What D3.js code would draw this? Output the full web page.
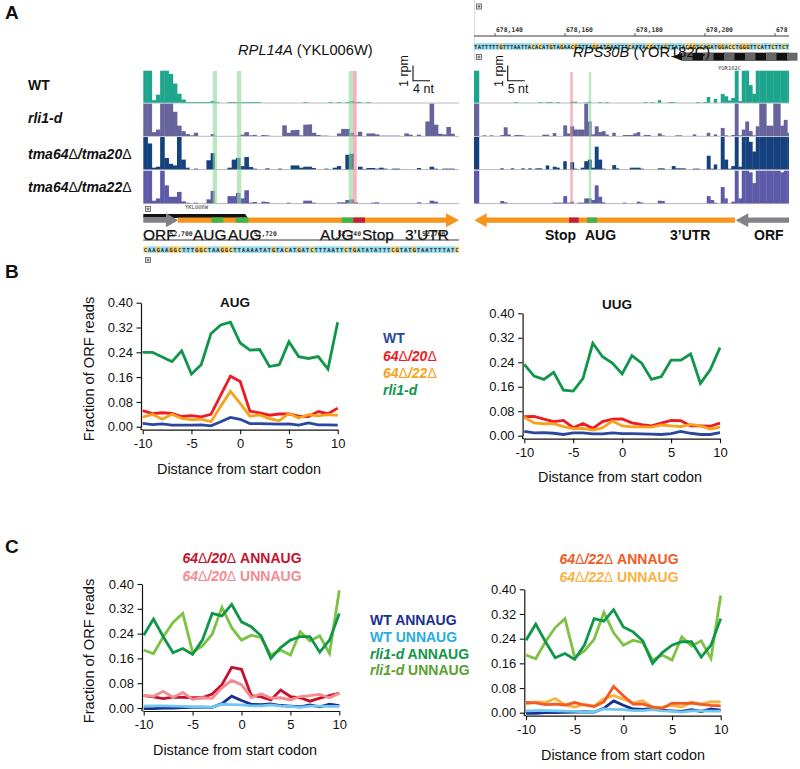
<!DOCTYPE html>
<html><head><meta charset="utf-8">
<style>html,body{margin:0;padding:0;background:#fff}svg{display:block}text{font-family:"Liberation Sans",Arial,sans-serif}</style>
<script src="https://cdn.jsdelivr.net/npm/d3@7"></script>
</head><body><svg id="c" width="800" height="769"></svg>
<script>
// ---- panel A data (signal clipped at track top, 1 = full track height)
const wtL=[1,1,.08,.25,1,1,.9,.6,.28,.1,.02,.02,.02,.02,.02,
.02,.05,.02,0,0,.02,.02,.02,.02,.02,.02,.02,.02,0,0,
0,0,0,0,0,0,0,0,.02,0,0,0,0,0,.02,
0,.02,0,.02,.05,.02,.02,0,.02,0,0,0,0,0,0,
0,0,0,0,0,0,0,0,0,0,0,0,0,0,0];
const rliL=[1,1,.12,.2,1,1,1,.75,.32,.15,.06,.02,.1,0,0,
0,.06,0,0,0,0,0,0,.04,.12,.02,.03,0,.03,.02,
0,0,0,.33,.1,.18,.19,.02,.35,.36,.1,.03,.01,.01,0,
0,.08,.22,.22,.1,.02,.13,0,.08,.08,.05,.01,.01,.01,.01,
.01,0,.08,.04,0,.04,0,.45,1,.35,.07,.05,.28,.07,0];
const t20L=[1,.8,.05,.08,1,.35,.17,.12,1,.3,.05,0,.02,0,0,
.28,.5,0,0,0,.05,.3,.35,.1,.38,.07,.02,0,0,.03,
0,0,.02,0,0,.12,.12,.05,.08,.08,.04,0,0,.02,0,
.05,.1,0,.45,.48,0,.08,.01,.04,.04,.02,.05,.02,0,.02,
.02,0,0,0,0,.04,0,0,.08,.02,0,.02,.02,.02,0];
const t22L=[1,1,.08,.15,1,.55,.2,.2,.35,.06,.02,0,.02,0,0,
.12,.38,0,0,0,.22,.22,.32,.15,.4,.02,.04,0,.05,.04,
0,0,0,0,.02,0,0,0,.08,.08,.02,0,0,0,0,
0,.03,.03,.1,.12,.03,0,0,0,.02,.03,0,0,0,0,
0,0,0,0,0,.03,0,0,.08,.05,0,0,0,0,0];
const wtR=[1,1,0,0,0,0,0,0,0,0,0,0,.02,0,0,
0,0,0,0,.02,0,.02,.02,0,.02,0,0,0,.03,.03,
0,0,.01,.03,0,0,.02,0,.02,0,0,0,0,0,0,
0,0,0,0,.02,0,.02,0,.08,0,0,.02,.02,0,0,
0,0,0,0,.02,0,.02,.18,0,.12,0,.27,.2,.07,.15,
1,.05,1,1,.55,.28,1,1,1,1,1,1,1,1,1,1];
const rliR=[1,1,0,.02,0,.02,0,0,.03,.27,.05,0,.03,.03,.02,
0,0,0,0,0,.04,.04,0,.09,0,0,.33,.08,.3,.2,
.2,.2,1,.45,.05,.3,.12,.15,.05,0,.1,0,0,.03,.03,
.03,.08,.12,0,.03,.03,0,0,.08,.02,0,0,0,.02,.02,
0,0,0,.05,0,0,0,.1,0,.05,0,.25,.02,0,.03,
1,.02,.2,.45,.15,.02,.3,1,1,.32,.32,1,1,.32,.5,.1];
const t20R=[1,1,0,0,0,0,0,0,.03,0,0,.03,0,0,.03,
0,.03,0,.03,.03,0,.12,0,.08,.05,0,.25,0,.22,.02,
0,.05,.25,.3,.05,.7,.3,.02,0,0,.13,.03,0,0,0,
.05,.05,.05,.02,0,0,0,0,.03,.03,0,0,.1,.03,.03,
.03,0,0,.02,.02,0,0,.42,.02,.15,0,1,.3,.02,.1,
1,.08,1,1,.85,.55,1,1,1,1,1,1,1,1,1,1];
const t22R=[1,1,0,0,0,0,0,0,.07,.03,0,0,0,0,0,
0,0,0,0,0,0,0,0,.02,.02,.02,.22,.02,.05,0,
.02,.02,.15,.15,.1,.55,.2,.03,0,0,0,0,0,.02,0,
0,0,.05,.02,0,0,0,0,.08,.07,0,0,0,0,0,
0,0,0,0,0,0,0,.22,.1,.02,0,.5,.15,0,.05,
1,.15,1,1,.95,.62,1,1,1,1,1,1,1,.95,1,1];
const seqL="CAAGAAGGCTTTGGCTAAGGCTTAAAATATGTACATGATCTTTAATTCTGATATATTTCGTATGTAATTTTATC";
const seqR="TATTTTTGTTTAATTACACATGTAGAACGTTTAGCATGAATTTCATTACGATAGTTATACGGTCAGATGGACCTGGGTTCATTCTTCT";
const tickL=["52,700","52,720","52,740","52,760"], tickLnt=[6,26,46,66];
const tickR=["678,140","678,160","678,180","678,200","678"], tickRnt=[6,26,46,66,86];
// ---- metagene data, positions -10..10
const pos=d3.range(-10,11);
const augGreen=[.24,.24,.225,.21,.245,.17,.2,.3,.328,.337,.27,.247,.249,.194,.2,.274,.226,.22,.226,.186,.337];
const augRed=[.052,.042,.045,.043,.033,.036,.032,.04,.102,.163,.146,.05,.045,.037,.041,.041,.034,.033,.049,.042,.06];
const augOrange=[.031,.04,.024,.04,.027,.023,.024,.016,.066,.114,.075,.034,.038,.026,.019,.043,.028,.039,.035,.039,.037];
const augBlue=[.011,.007,.009,.005,.005,.005,.006,.003,.016,.03,.024,.01,.01,.009,.008,.009,.005,.012,.006,.006,.005];
const uugGreen=[.233,.195,.184,.207,.149,.146,.187,.302,.258,.237,.202,.262,.237,.184,.193,.247,.247,.267,.171,.215,.288];
const uugRed=[.062,.063,.054,.046,.05,.026,.04,.024,.046,.054,.055,.042,.036,.032,.041,.05,.049,.032,.032,.031,.041];
const uugOrange=[.06,.042,.039,.039,.03,.023,.024,.018,.026,.048,.032,.029,.029,.028,.035,.032,.03,.037,.032,.022,.028];
const uugBlue=[.014,.009,.01,.008,.004,.009,.009,.006,.006,.009,.007,.007,.006,.005,.004,.007,.014,.008,.004,.004,.01];
const rliAnn=[.235,.287,.23,.178,.192,.173,.219,.305,.297,.334,.278,.262,.233,.16,.195,.219,.23,.23,.18,.219,.305];
const rliUnn=[.187,.175,.23,.276,.305,.18,.2,.238,.325,.259,.219,.235,.227,.171,.187,.171,.246,.216,.233,.176,.38];
const d20Ann=[.04,.036,.03,.035,.034,.033,.033,.045,.075,.131,.125,.04,.036,.026,.058,.037,.033,.022,.032,.04,.048];
const d20Unn=[.04,.038,.054,.034,.05,.028,.033,.031,.065,.089,.075,.034,.046,.032,.033,.026,.037,.04,.044,.033,.048];
const d22Ann=[.033,.032,.026,.028,.025,.033,.025,.02,.035,.085,.055,.028,.028,.019,.014,.031,.03,.031,.027,.024,.022];
const d22Unn=[.028,.035,.033,.046,.025,.018,.027,.022,.045,.056,.044,.032,.039,.017,.018,.024,.018,.035,.028,.036,.035];
const wtAnn=[-.002,-.002,0,0,.001,.002,.003,.002,.014,.038,.024,.012,.011,.013,.008,.006,.004,.01,.004,.012,.008];
const wtUnn=[.006,.007,.007,.006,.005,.004,.003,.003,.012,.011,.01,.007,.007,.01,.006,.005,.002,.006,.006,.005,.005];
const yTicks=[0,.08,.16,.24,.32,.40];
const xTicks=[-10,-5,0,5,10];

const svg=d3.select("#c");
const C={wt:"#1fa58d",rli:"#67649d",t20:"#15427f",t22:"#5d5aa9",blue:"#2b479d",red:"#ed1c24",orange:"#f9a11b",green:"#0f9648",
 dred:"#c8102e",pink:"#f58a8f",rorange:"#f15a22",lorange:"#fbb040",navy:"#1b2f8f",sky:"#6fc8f0",lgreen:"#7dc242",dgreen:"#0f9648",
 band:"#8fd89a",bandr:"#e58a94",arrow:"#f7941d",fg:"#3cb54a",fr:"#c41e3a",ga:"#808285"};
function txt(x,y,s,o={}){const t=svg.append("text").attr("x",x).attr("y",y).attr("font-size",o.size||14)
 .attr("font-weight",o.weight||"normal").attr("font-style",o.style||"normal").attr("fill",o.fill||"#111")
 .attr("text-anchor",o.anchor||"start");
 if(o.rotate)t.attr("transform",`rotate(-90 ${x} ${y})`);
 (Array.isArray(s)?s:[[s]]).forEach(p=>{const sp=t.append("tspan").text(p[0]);if(p[1])sp.attr("font-style",p[1]);if(p[2])sp.attr("font-weight",p[2]);});
 return t;}

// panel letters
txt(5,19,"A",{size:19,weight:"bold"});txt(5,278,"B",{size:19,weight:"bold"});txt(5,553,"C",{size:19,weight:"bold"});

// ---- tracks
const trackY=[[70.7,102.7],[103.7,136],[137,169.3],[170.7,203.3]];
function tracks(series,colors,x){
 series.forEach((vals,k)=>{
  const y=d3.scaleLinear().domain([0,1]).range([trackY[k][1],trackY[k][0]]);
  const [a,b]=x.range();
  svg.append("line").attr("x1",a).attr("x2",b).attr("y1",y(0)+.3).attr("y2",y(0)+.3).attr("stroke","#b9b9b9").attr("stroke-width",1);
  svg.append("g").selectAll("rect").data(vals.map((v,i)=>({v,i})).filter(d=>d.v>0)).join("rect")
   .attr("x",d=>x(d.i)).attr("width",d=>x(d.i+1)-x(d.i)+(vals[d.i+1]>0?.4:0)).attr("y",d=>y(d.v)).attr("height",d=>y(0)-y(d.v)).attr("fill",colors[k]);
 });
}
const colors=[C.wt,C.rli,C.t20,C.t22];
const xL=d3.scaleLinear().domain([0,75]).range([143.3,459]);
const xR=d3.scaleLinear().domain([.5,90.5]).range([474,789]).clamp(true);
tracks([wtL,rliL,t20L,t22L],colors,xL);
tracks([wtR,rliR,t20R,t22R],colors,xR);
function band(x0,x1,c,y0,y1){svg.append("rect").attr("x",x0).attr("width",x1-x0).attr("y",y0).attr("height",y1-y0).attr("fill",c).attr("opacity",.62);}
band(212.7,217,C.band,71,204);band(237,241.3,C.band,71,204);band(348.7,352.7,C.band,71,204);band(352.7,356.7,C.bandr,71,204);
band(570.3,572.8,C.bandr,72,204);band(588.8,591.2,C.band,72,204);

// row labels
const lab={size:14,weight:"bold"};
txt(28,90,"WT",lab);
txt(28,123,"rli1-d",{...lab,style:"italic"});
txt(28,159,[["tma64","italic"],["Δ","normal","normal"],["/tma20","italic"],["Δ","normal","normal"]],lab);
txt(28,192,[["tma64","italic"],["Δ","normal","normal"],["/tma22","italic"],["Δ","normal","normal"]],lab);
txt(238,55,[["RPL14A","italic"],[" (YKL006W)"]],{size:14.7});

// scale bars
function scalebar(x,l){svg.append("path").attr("d",`M${x},65.5V80.7H${x+17}`).attr("fill","none").attr("stroke","#111").attr("stroke-width",1.1);
 txt(x-5,87,"1 rpm",{size:12.5,rotate:true});txt(x,92.7,l,{size:12.5});}
scalebar(413,"4 nt");scalebar(507.7,"5 nt");

// browser furniture
function plus(x,y){svg.append("rect").attr("x",x-2.5).attr("y",y-2.5).attr("width",5).attr("height",5).attr("fill","#eee").attr("stroke","#555").attr("stroke-width",.8);
 svg.append("path").attr("d",`M${x-1.5},${y}H${x+1.5}M${x},${y-1.5}V${y+1.5}`).attr("stroke","#333").attr("stroke-width",.7);}
plus(148,209);plus(148,260);plus(479,6.5);plus(479,57);
svg.append("line").attr("x1",474.5).attr("x2",474.5).attr("y1",0).attr("y2",62).attr("stroke","#ddd");

function seq(s,x0,x1,y){const x=d3.scaleLinear().domain([0,s.length]).range([x0,x1]);
 const col={A:"#8fdcf0",T:"#8fdcf0",G:"#f9c85a",C:"#f7d87a"};
 const g=svg.append("g");
 g.selectAll("rect").data([...s]).join("rect").attr("x",(d,i)=>x(i)).attr("width",x(1)-x(0)+.1).attr("y",y-3.2).attr("height",6.6).attr("fill",d=>col[d]);
 g.selectAll("text").data([...s]).join("text").attr("x",(d,i)=>x(i+.5)).attr("y",y+2.3).attr("text-anchor","middle").attr("font-size",5.6).attr("font-weight","bold").style("font-family","DejaVu Sans Mono").attr("fill","#333").text(d=>d);}
seq(seqL,143.3,459,249.5);seq(seqR,474,789,46.3);

function ruler(x0,x1,y,labels,nts,scale){
 svg.append("line").attr("x1",x0).attr("x2",x1).attr("y1",y).attr("y2",y).attr("stroke","#222").attr("stroke-width",.9);
 nts.forEach((n,i)=>{const x=scale(n);
  svg.append("line").attr("x1",x).attr("x2",x).attr("y1",y-3).attr("y2",y).attr("stroke","#222").attr("stroke-width",.7);
  svg.append("text").attr("x",x+1).attr("y",y-4.5).attr("font-size",6.4).attr("font-weight","bold").style("font-family","DejaVu Sans Mono").attr("fill","#333").text(labels[i]);});}
ruler(143.3,459,240,tickL,tickLnt,d3.scaleLinear().domain([0,75]).range([143.3,459]));
ruler(474,789,36,tickR,tickRnt,d3.scaleLinear().domain([0,90]).range([474,789]));
txt(185,209,"YKL006W",{size:5.5,fill:"#444"}).style("font-family","DejaVu Sans Mono");
txt(718,70,"YOR182C",{size:5.5,fill:"#444"}).style("font-family","DejaVu Sans Mono");

// gene model strips
svg.append("path").attr("d","M143.3,214H245L248,218H143.3Z").attr("fill","#111");
const stripes=d3.range(682,789,21);
svg.append("path").attr("d","M672,56.7L682,52.7V60.7Z").attr("fill","#111");
svg.append("rect").attr("x",682).attr("y",52.7).attr("width",107).attr("height",8).attr("fill","#111");
svg.append("g").selectAll("rect").data(stripes).join("rect").attr("x",d=>d).attr("y",52.7).attr("width",10.5).attr("height",8).attr("fill","#666");

// feature arrows
function poly(p,c){svg.append("path").attr("d","M"+p.map(q=>q.join(",")).join("L")+"Z").attr("fill",c);}
const fy=[217.5,222.7],hy=[213.3,227.3],my=220.2;
poly([[143.3,217],[166,217],[166,hy[0]],[178,my],[166,hy[1]],[166,222.7],[143.3,222.7]],C.ga);
poly([[177.7,fy[0]],[446,fy[0]],[446,hy[0]],[459,my],[446,hy[1]],[446,fy[1]],[177.7,fy[1]]],C.arrow);
[[211.7,223.3],[235.7,248.3],[341.7,353.3]].forEach(s=>svg.append("rect").attr("x",s[0]).attr("width",s[1]-s[0]).attr("y",fy[0]).attr("height",fy[1]-fy[0]).attr("fill",C.fg));
svg.append("rect").attr("x",353.3).attr("width",11.7).attr("y",fy[0]).attr("height",fy[1]-fy[0]).attr("fill",C.fr);
poly([[735,fy[0]],[486.7,fy[0]],[486.7,hy[0]],[474.3,my],[486.7,hy[1]],[486.7,fy[1]],[735,fy[1]]],C.arrow);
svg.append("rect").attr("x",569).attr("width",9.7).attr("y",fy[0]).attr("height",fy[1]-fy[0]).attr("fill",C.fr);
svg.append("rect").attr("x",587).attr("width",10).attr("y",fy[0]).attr("height",fy[1]-fy[0]).attr("fill",C.fg);
poly([[789,fy[0]],[748.3,fy[0]],[748.3,hy[0]],[735.7,my],[748.3,hy[1]],[748.3,fy[1]],[789,fy[1]]],C.ga);

[["ORF",143],["AUG",193],["AUG",228],["AUG",320],["Stop",362],["3’UTR",405]].forEach(d=>txt(d[1],240,d[0],{size:15.5,fill:"#111"}).attr("stroke","#111").attr("stroke-width",.25));
txt(545,240,"Stop",lab);txt(585,240,"AUG",lab);txt(670,240,"3’UTR",lab);txt(754,240,"ORF",lab);
txt(573,57,[["RPS30B","italic"],[" (YOR182C)"]],{size:14.7});

// ---- metagene charts
function chart(g){
 const x=d3.scaleLinear().domain([-10,10]).range(g.xr);
 const y=d3.scaleLinear().domain([0,.4]).range(g.yr);
 const ax=g.xr[0]-1.7, ay=g.yr[0]+3;
 const ya=svg.append("g").attr("transform",`translate(${ax},0)`).call(d3.axisLeft(y).tickValues(yTicks).tickFormat(d3.format(".2f")).tickSize(4.5).tickSizeOuter(0));
 const xa=svg.append("g").attr("transform",`translate(0,${ay})`).call(d3.axisBottom(x).tickValues(xTicks).tickFormat(d=>String(d)).tickSize(4.5).tickSizeOuter(0));
 [ya,xa].forEach(a=>{a.selectAll("text").attr("font-size",13).attr("fill","#111").style("font-family",'"Liberation Sans"');a.selectAll("line").attr("stroke","#111").attr("stroke-width",1.1);a.select(".domain").attr("stroke","#111").attr("stroke-width",1.2);});
 ya.selectAll("text").attr("x",-8);xa.selectAll("text").attr("y",9);
 svg.append("line").attr("x1",ax).attr("x2",ax).attr("y1",y(0)).attr("y2",ay).attr("stroke","#111").attr("stroke-width",1.2);
 svg.append("line").attr("x1",ax).attr("x2",x(-10)).attr("y1",ay).attr("y2",ay).attr("stroke","#111").attr("stroke-width",1.2);
 const line=d3.line().x((d,i)=>x(pos[i])).y(d=>y(d));
 g.series.forEach(s=>svg.append("path").attr("d",line(s[0])).attr("fill","none").attr("stroke",s[1]).attr("stroke-width",2.8).attr("stroke-linejoin","miter"));
 txt(g.tx,g.ty,"Distance from start codon",{size:14.4,anchor:"middle"});
 if(g.yt)txt(g.yt[0],g.yt[1],"Fraction of ORF reads",{size:14.6,anchor:"middle",rotate:true});
}
chart({xr:[142.7,337.7],yr:[426.7,302.7],tx:239,ty:474,yt:[94,369],series:[[augGreen,C.green],[augRed,C.red],[augOrange,C.orange],[augBlue,C.blue]]});
chart({xr:[524.3,720],yr:[435.7,313.3],tx:620,ty:482,series:[[uugGreen,C.green],[uugRed,C.red],[uugOrange,C.orange],[uugBlue,C.blue]]});
chart({xr:[143.7,339.3],yr:[708,584],tx:235,ty:755,yt:[94,651],series:[[wtAnn,C.navy],[wtUnn,C.sky],[d20Ann,C.dred],[d20Unn,C.pink],[rliUnn,C.lgreen],[rliAnn,C.dgreen]]});
chart({xr:[526,720.7],yr:[712.7,589.3],tx:623,ty:760,series:[[wtAnn,C.navy],[wtUnn,C.sky],[d22Unn,C.lorange],[d22Ann,C.rorange],[rliUnn,C.lgreen],[rliAnn,C.dgreen]]});

const bold={size:13.5,weight:"bold"};
txt(235,307,"AUG",{...bold,anchor:"middle"});txt(617,309,"UUG",{...bold,anchor:"middle"});
const d=(a,b,rest)=>[[a,"italic"],["Δ","normal","normal"],[b,"italic"],["Δ","normal","normal"]].concat(rest?[[rest]]:[]);
txt(383,343,"WT",{...lab,fill:C.blue});
txt(383,361,d("64","/20"),{...lab,fill:C.red});
txt(383,378,d("64","/22"),{...lab,fill:C.orange});
txt(383,395,"rli1-d",{...lab,fill:C.green,style:"italic"});
txt(242,563,d("64","/20"," ANNAUG"),{...lab,fill:C.dred,anchor:"middle"});
txt(242,581,d("64","/20"," UNNAUG"),{...lab,fill:C.pink,anchor:"middle"});
txt(619,564,d("64","/22"," ANNAUG"),{...lab,fill:C.rorange,anchor:"middle"});
txt(619,582,d("64","/22"," UNNAUG"),{...lab,fill:C.lorange,anchor:"middle"});
txt(370,625,"WT ANNAUG",{...lab,fill:C.navy});
txt(370,642,"WT UNNAUG",{...lab,fill:"#29abe2"});
txt(370,659,[["rli1-d","italic"],[" ANNAUG"]],{...lab,fill:C.green});
txt(370,675,[["rli1-d","italic"],[" UNNAUG"]],{...lab,fill:"#5aa02c"});
</script></body></html>
